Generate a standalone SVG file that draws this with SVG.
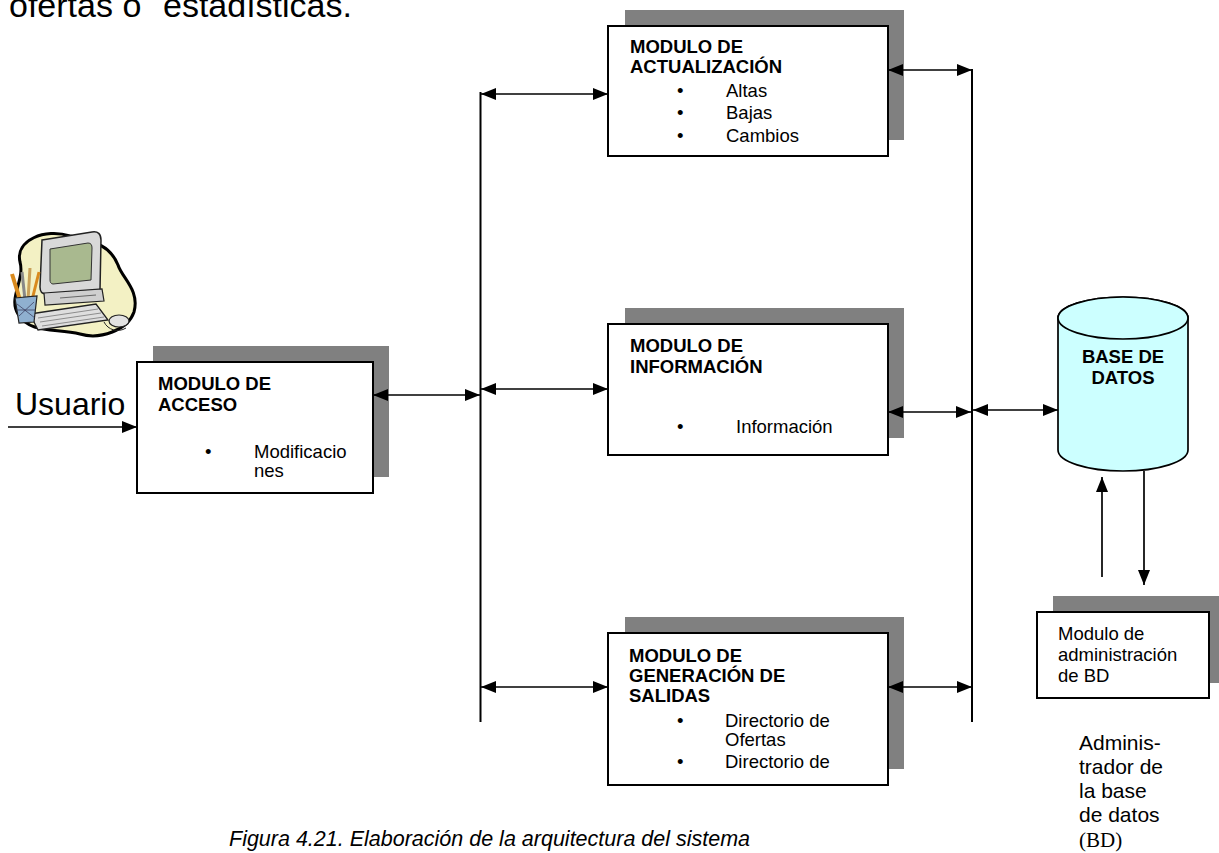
<svg xmlns="http://www.w3.org/2000/svg" width="1219" height="853" viewBox="0 0 1219 853">
  <style>
    .box { fill: #ffffff; stroke: #000000; stroke-width: 2; }
    .shadow { fill: #808080; stroke: none; }
    .title { font-family: "Liberation Sans", Arial, sans-serif; font-size: 18.5px; font-weight: bold; fill: #000; }
    .item { font-family: "Liberation Sans", Arial, sans-serif; font-size: 18.5px; fill: #000; }
    .wire { stroke: #000; stroke-width: 1.7; fill: none; }
    .bus { stroke: #000; stroke-width: 2; fill: none; }
    .big { font-family: "Liberation Sans", Arial, sans-serif; font-size: 32px; fill: #000; }
    .side { font-family: "Liberation Sans", Arial, sans-serif; font-size: 21px; fill: #000; }
  </style>
  <defs>
    <marker id="head" markerUnits="userSpaceOnUse" markerWidth="16" markerHeight="14" refX="15" refY="6" orient="auto-start-reverse">
      <path d="M0,0 L15,6 L0,12 z" fill="#000"/>
    </marker>
  </defs>

  <rect width="1219" height="853" fill="#ffffff"/>

  <!-- running text above the figure -->
  <text class="big" y="17" font-size="34px" style="font-size:34px"><tspan x="9">ofertas o</tspan><tspan x="163">estadísticas.</tspan></text>

  <!-- user workstation clipart -->
  <g id="usuario-icon">
    <path d="M20,262 C15,240 45,228 70,236 C95,242 110,245 118,265 C122,278 140,290 134,312 C128,330 100,340 80,334 C55,328 30,334 18,314 C8,298 25,280 20,262 Z" fill="#f3f1c4" stroke="#000" stroke-width="3"/>
    <path d="M42,240 L92,232 C98,231 101,234 101,240 L100,290 L46,294 C42,294 40,291 40,287 Z" fill="#d9d9d9" stroke="#222" stroke-width="1.5"/>
    <path d="M50,249 L88,243 C91,243 92,245 92,248 L91,280 L53,284 C51,284 50,282 50,280 Z" fill="#a9b98f" stroke="#333" stroke-width="1"/>
    <path d="M44,293 L102,289 L104,301 L45,305 Z" fill="#cfcfcf" stroke="#222" stroke-width="1.2"/>
    <path d="M60,298 L96,295" stroke="#666" stroke-width="1"/>
    <path d="M30,314 L96,304 L108,320 L38,330 Z" fill="#dedede" stroke="#222" stroke-width="1.3"/>
    <path d="M38,318 L98,309 M40,322 L101,313 M42,326 L104,317" stroke="#777" stroke-width="0.8"/>
    <path d="M104,322 C108,330 118,333 126,328" fill="none" stroke="#222" stroke-width="1"/>
    <ellipse cx="119" cy="321" rx="10" ry="6" fill="#e2e2e2" stroke="#222" stroke-width="1.2"/>
    <path d="M12,274 L20,300" stroke="#d98a1e" stroke-width="4"/>
    <path d="M22,272 L25,300" stroke="#888" stroke-width="3"/>
    <path d="M30,268 L28,300" stroke="#c9a15a" stroke-width="3"/>
    <path d="M39,272 L32,300" stroke="#d98a1e" stroke-width="3"/>
    <path d="M15,298 L37,296 L34,322 L19,323 Z" fill="#8fb0d0" stroke="#222" stroke-width="1.2"/>
    <path d="M17,304 L35,318 M19,316 L34,302 M16,310 L36,310" stroke="#335" stroke-width="0.7"/>
  </g>

  <text class="big" x="15" y="415">Usuario</text>

  <!-- MODULO DE ACCESO -->
  <g id="modulo-acceso">
    <rect class="shadow" x="153" y="346" width="236" height="131"/>
    <rect class="box" x="137" y="362" width="236" height="131"/>
    <text class="title" x="158" y="390">MODULO DE</text>
    <text class="title" x="158" y="411">ACCESO</text>
    <text class="item" x="205" y="458">•</text>
    <text class="item" x="254" y="458">Modificacio</text>
    <text class="item" x="254" y="477">nes</text>
  </g>

  <!-- MODULO DE ACTUALIZACIÓN -->
  <g id="modulo-actualizacion">
    <rect class="shadow" x="625" y="10" width="279" height="130"/>
    <rect class="box" x="608" y="26" width="280" height="130"/>
    <text class="title" x="630" y="53">MODULO DE</text>
    <text class="title" x="630" y="73">ACTUALIZACIÓN</text>
    <text class="item" x="677" y="97">•</text>
    <text class="item" x="726" y="97">Altas</text>
    <text class="item" x="677" y="119">•</text>
    <text class="item" x="726" y="119">Bajas</text>
    <text class="item" x="677" y="142">•</text>
    <text class="item" x="726" y="142">Cambios</text>
  </g>

  <!-- MODULO DE INFORMACIÓN -->
  <g id="modulo-informacion">
    <rect class="shadow" x="625" y="308" width="279" height="130"/>
    <rect class="box" x="608" y="324" width="280" height="131"/>
    <text class="title" x="630" y="352">MODULO DE</text>
    <text class="title" x="630" y="373">INFORMACIÓN</text>
    <text class="item" x="677" y="433">•</text>
    <text class="item" x="736" y="433">Información</text>
  </g>

  <!-- MODULO DE GENERACIÓN DE SALIDAS -->
  <g id="modulo-generacion">
    <rect class="shadow" x="625" y="617" width="279" height="152"/>
    <rect class="box" x="608" y="633" width="280" height="152"/>
    <text class="title" x="629" y="662">MODULO DE</text>
    <text class="title" x="629" y="682">GENERACIÓN DE</text>
    <text class="title" x="629" y="702">SALIDAS</text>
    <text class="item" x="677" y="727">•</text>
    <text class="item" x="725" y="727">Directorio de</text>
    <text class="item" x="725" y="746">Ofertas</text>
    <text class="item" x="677" y="768">•</text>
    <text class="item" x="725" y="768">Directorio de</text>
  </g>

  <!-- BASE DE DATOS -->
  <g id="base-datos">
    <path d="M1058,318 L1058,450 A65,21 0 0 0 1188,450 L1188,318 A65,21 0 0 0 1058,318 Z" fill="#ccffff" stroke="#000" stroke-width="1.7"/>
    <ellipse cx="1123" cy="318" rx="65" ry="21" fill="#ccffff" stroke="#000" stroke-width="1.7"/>
    <text class="title" x="1123" y="363" text-anchor="middle">BASE DE</text>
    <text class="title" x="1123" y="384" text-anchor="middle">DATOS</text>
  </g>

  <!-- Modulo de administración de BD -->
  <g id="modulo-admin-bd">
    <rect class="shadow" x="1053" y="596" width="166" height="87"/>
    <rect class="box" x="1037" y="612" width="172" height="86"/>
    <text class="item" x="1058" y="640">Modulo de</text>
    <text class="item" x="1058" y="661">administración</text>
    <text class="item" x="1058" y="682">de BD</text>
  </g>

  <!-- database administrator label -->
  <g id="administrador">
    <text class="side" x="1079" y="750">Adminis-</text>
    <text class="side" x="1079" y="774">trador de</text>
    <text class="side" x="1079" y="798">la base</text>
    <text class="side" x="1079" y="822">de datos</text>
    <text x="1079" y="847" font-family="Liberation Serif, 'Times New Roman', serif" font-size="21px">(BD)</text>
  </g>

  <!-- connectors -->
  <g id="connectors">
    <line class="bus" x1="480.5" y1="92" x2="480.5" y2="722"/>
    <line class="bus" x1="972" y1="69" x2="972" y2="722"/>
    <line class="wire" x1="8" y1="427" x2="137" y2="427" marker-end="url(#head)"/>
    <line class="wire" x1="373" y1="395" x2="480" y2="395" marker-start="url(#head)" marker-end="url(#head)"/>
    <line class="wire" x1="481" y1="94" x2="608" y2="94" marker-start="url(#head)" marker-end="url(#head)"/>
    <line class="wire" x1="888" y1="70" x2="972" y2="70" marker-start="url(#head)" marker-end="url(#head)"/>
    <line class="wire" x1="481" y1="389" x2="608" y2="389" marker-start="url(#head)" marker-end="url(#head)"/>
    <line class="wire" x1="888" y1="412" x2="971" y2="412" marker-start="url(#head)" marker-end="url(#head)"/>
    <line class="wire" x1="973" y1="410" x2="1058" y2="410" marker-start="url(#head)" marker-end="url(#head)"/>
    <line class="wire" x1="481" y1="687" x2="608" y2="687" marker-start="url(#head)" marker-end="url(#head)"/>
    <line class="wire" x1="888" y1="687" x2="972" y2="687" marker-start="url(#head)" marker-end="url(#head)"/>
    <line class="wire" x1="1102" y1="577" x2="1102" y2="477" marker-end="url(#head)"/>
    <line class="wire" x1="1144" y1="471" x2="1144" y2="585" marker-end="url(#head)"/>
  </g>

  <!-- caption -->
  <text x="229" y="846" font-family="Liberation Sans, Arial, sans-serif" font-size="21.5px" font-style="italic">Figura 4.21. Elaboración de la arquitectura del sistema</text>
</svg>
